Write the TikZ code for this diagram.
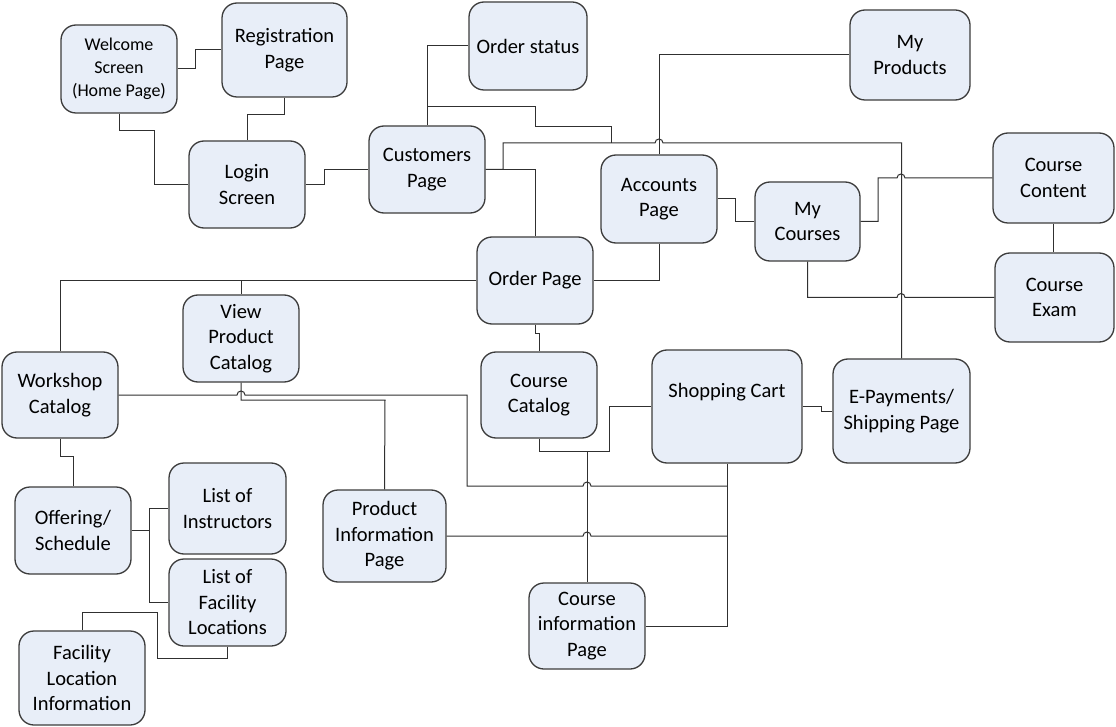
\documentclass[tikz,border=0pt]{standalone}
\usepackage{fontspec}
\setmainfont{Carlito}
\definecolor{boxfill}{HTML}{E8EEF8}
\definecolor{boxline}{HTML}{3C3C3C}
\definecolor{wire}{HTML}{303030}
\begin{document}
\begin{tikzpicture}[x=1pt,y=-1pt,
  box/.style={draw=boxline,fill=boxfill,line width=1.3pt,rounded corners=15pt,
    align=center,inner sep=0pt,font=\fontsize{20.5}{25.5}\selectfont},
  wires/.style={draw=wire,line width=1pt}]
\useasboundingbox (0,0) rectangle (1116,727);
\fill[white] (0,0) rectangle (1116,727);
% --- connectors first (behind boxes) ---
\coordinate (cb1) at (427,107);
\coordinate (vb) at (241,280.5);
\coordinate (ob) at (149,530.5);
\coordinate (ccb) at (587,451);
% nodes placeholder coordinates for drawing order
\begin{scope}[on background layer/.style={}]
\end{scope}
% Nodes
\node[box,minimum width=116pt,minimum height=88pt,font=\fontsize{18}{23}\selectfont] (welcome) at (119,69) {Welcome\\Screen\\(Home Page)};
\node[box,minimum width=125pt,minimum height=94pt] (reg) at (284.5,50) {Registration\\Page};
\node[box,minimum width=116pt,minimum height=87pt] (login) at (247,184.5) {Login\\Screen};
\node[box,minimum width=116pt,minimum height=87pt] (cust) at (427,169.5) {Customers\\Page};
\node[box,minimum width=118pt,minimum height=88pt] (ostatus) at (528,46) {Order status};
\node[box,minimum width=120pt,minimum height=90pt] (myprod) at (910,55) {My\\Products};
\node[box,minimum width=116pt,minimum height=88pt] (accounts) at (659,199) {Accounts\\Page};
\node[box,minimum width=105pt,minimum height=79pt] (mycourses) at (807.5,221.5) {My\\Courses};
\node[box,minimum width=121pt,minimum height=90pt] (ccontent) at (1053.5,178) {Course\\Content};
\node[box,minimum width=119pt,minimum height=89pt] (cexam) at (1054.5,297.5) {Course\\Exam};
\node[box,minimum width=116pt,minimum height=87pt] (orderpage) at (535,280.5) {Order Page};
\node[box,minimum width=116pt,minimum height=87pt] (vpc) at (241,338.5) {View\\Product\\Catalog};
\node[box,minimum width=116pt,minimum height=86pt] (workshop) at (60,395) {Workshop\\Catalog};
\node[box,minimum width=116pt,minimum height=86pt] (ccatalog) at (539,395) {Course\\Catalog};
\node[box,minimum width=150pt,minimum height=113pt] (cart) at (727,406.5) {Shopping Cart\\\strut};
\node[box,minimum width=137pt,minimum height=104pt] (epay) at (901.5,411) {E-Payments/\\Shipping Page};
\node[box,minimum width=116pt,minimum height=87pt] (offering) at (73,530.5) {Offering/\\Schedule};
\node[box,minimum width=117pt,minimum height=91pt] (instr) at (227.5,508.5) {List of\\Instructors};
\node[box,minimum width=117pt,minimum height=87pt] (facil) at (227.5,602.5) {List of\\Facility\\Locations};
\node[box,minimum width=123pt,minimum height=92pt] (prodinfo) at (384.5,536) {Product\\Information\\Page};
\node[box,minimum width=126pt,minimum height=94pt] (facinfo) at (82,678) {Facility\\Location\\Information};
\node[box,minimum width=116pt,minimum height=86pt] (cinfo) at (587,626) {Course\\information\\Page};
% --- connectors ---
\begin{scope}[wires]
\draw (welcome.east) -- (195,69) |- (reg.west);
\draw (welcome.south) |- (154,131) |- (login.west);
\draw (reg.south) |- (247,115) -- (login.north);
\draw (login.east) -- (324,184.5) |- (cust.west);
\draw (cust.north) |- (ostatus.west);
\draw (cb1) -| (535,127) -| (611,143);
\draw (cust.east) -- (503,169.5) |- (655,143) arc[start angle=180,end angle=0,radius=4pt] -| (epay.north);
\draw (cust.east) -| (orderpage.north);
\draw (accounts.north) |- (myprod.west);
\draw (accounts.east) -- (735,199) |- (mycourses.west);
\draw (mycourses.east) -- (878,221.5) |- (897,178) arc[start angle=180,end angle=0,radius=4pt] -- (ccontent.west);
\draw (ccontent.south) -- (ccontent.south |- cexam.north);
\draw (mycourses.south) |- (897,297.5) arc[start angle=180,end angle=0,radius=4pt] -- (cexam.west);
\draw (accounts.south) |- (orderpage.east);
\draw (orderpage.west) -| (workshop.north);
\draw (vb) -- (vpc.north);
\draw (orderpage.south) -- (535,333) -- (539,333) -- (ccatalog.north);
\draw (workshop.east) -- (237,395) arc[start angle=180,end angle=0,radius=4pt] -- (467,395) |- (583,486) arc[start angle=180,end angle=0,radius=4pt] -- (727,486);
\draw (vpc.south) |- (385,400) -- (prodinfo.north);
\draw (prodinfo.east) -- (583,536) arc[start angle=180,end angle=0,radius=4pt] -- (727,536);
\draw (workshop.south) |- (73,456) -- (offering.north);
\draw (offering.east) -- (ob) |- (instr.west);
\draw (ob) |- (facil.west);
\draw (facil.south) |- (157.5,658) |- (82,612) -- (facinfo.north);
\draw (ccatalog.south) |- (609,451) |- (cart.west);
\draw (ccb) -- (cinfo.north);
\draw (cinfo.east) -| (cart.south);
\draw (cart.east) -- (821,406.5) |- (epay.west);
\end{scope}
\end{tikzpicture}
\end{document}
